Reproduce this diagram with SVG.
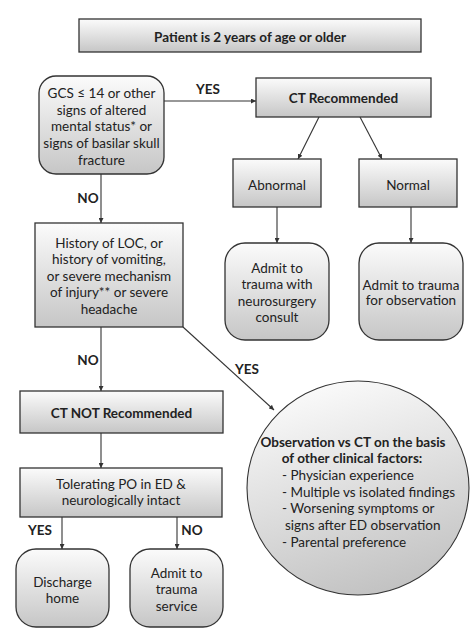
<svg xmlns="http://www.w3.org/2000/svg" width="471" height="633" viewBox="0 0 471 633">
<defs>
<linearGradient id="g" x1="0" y1="0" x2="0" y2="1">
<stop offset="0" stop-color="#fbfbfb"/>
<stop offset="1" stop-color="#c6c6c6"/>
</linearGradient>
<linearGradient id="gc" x1="0.3" y1="0" x2="0.6" y2="1">
<stop offset="0" stop-color="#fbfbfb"/>
<stop offset="1" stop-color="#c2c2c2"/>
</linearGradient>
<marker id="ah" viewBox="0 0 10 10" refX="10" refY="5" markerWidth="5" markerHeight="5" orient="auto" markerUnits="userSpaceOnUse">
<path d="M0,0 L10,5 L0,10 z" fill="#333"/>
</marker>
<style>
.box{fill:url(#g);stroke:#333;stroke-width:1.3}
.t{font-family:Lato,"Liberation Sans",sans-serif;font-size:13.5px;fill:#222;text-anchor:middle}
.b{font-weight:bold}
.l{text-anchor:start}
.c{stroke:#333;stroke-width:1.1;fill:none;marker-end:url(#ah)}
</style>
</defs>
<rect width="471" height="633" fill="#fff"/>
<g id="connectors">
<line class="c" x1="164" y1="101" x2="256" y2="101"/>
<line class="c" x1="319" y1="117" x2="298" y2="159"/>
<line class="c" x1="360" y1="117" x2="382" y2="159"/>
<line class="c" x1="277" y1="207" x2="277" y2="243"/>
<line class="c" x1="411" y1="207" x2="411" y2="243"/>
<line class="c" x1="101" y1="174" x2="101" y2="223"/>
<line class="c" x1="101" y1="327" x2="101" y2="391"/>
<line class="c" x1="183" y1="327" x2="274" y2="410"/>
<line class="c" x1="101" y1="433" x2="101" y2="468"/>
<line class="c" x1="62" y1="517" x2="62" y2="549"/>
<line class="c" x1="177" y1="517" x2="177" y2="549"/>
<text class="t b" x="208" y="94">YES</text>
<text class="t b" x="88" y="203">NO</text>
<text class="t b" x="88" y="365">NO</text>
<text class="t b" x="247" y="374">YES</text>
<text class="t b" x="40" y="535">YES</text>
<text class="t b" x="192" y="535">NO</text>
</g>
<g id="start">
<rect class="box" x="79" y="19" width="342" height="33" stroke-width="2"/>
<text class="t b" x="250" y="41.5" font-size="15">Patient is 2 years of age or older</text>
</g>
<g id="gcs">
<rect class="box" x="39" y="76" width="125" height="98" rx="17"/>
<text class="t" x="101.5" y="98">GCS ≤ 14 or other</text>
<text class="t" x="101.5" y="114.7">signs of altered</text>
<text class="t" x="101.5" y="131.4">mental status* or</text>
<text class="t" x="101.5" y="148.1">signs of basilar skull</text>
<text class="t" x="101.5" y="164.8">fracture</text>
</g>
<g id="ctrec">
<rect class="box" x="256" y="78" width="175" height="39"/>
<text class="t b" x="343.5" y="103">CT Recommended</text>
</g>
<g id="abnormal">
<rect class="box" x="233" y="159" width="88" height="48"/>
<text class="t" x="277" y="189.5">Abnormal</text>
</g>
<g id="normal">
<rect class="box" x="359" y="159" width="98" height="48"/>
<text class="t" x="408" y="189.5">Normal</text>
</g>
<g id="admitneuro">
<rect class="box" x="225" y="243" width="104" height="97" rx="20"/>
<text class="t" x="277" y="272.5">Admit to</text>
<text class="t" x="277" y="289">trauma with</text>
<text class="t" x="277" y="305.5">neurosurgery</text>
<text class="t" x="277" y="322">consult</text>
</g>
<g id="admitobs">
<rect class="box" x="359" y="243" width="104" height="97" rx="20"/>
<text class="t" x="411" y="289.5">Admit to trauma</text>
<text class="t" x="411" y="305">for observation</text>
</g>
<g id="history">
<rect class="box" x="35" y="223" width="148" height="104"/>
<text class="t" x="109" y="247.5">History of LOC, or</text>
<text class="t" x="109" y="264">history of vomiting,</text>
<text class="t" x="109" y="280.5">or severe mechanism</text>
<text class="t" x="109" y="297">of injury** or severe</text>
<text class="t" x="109" y="313.5">headache</text>
</g>
<g id="ctnot">
<rect class="box" x="20" y="391" width="203" height="42"/>
<text class="t b" x="121.5" y="417.5">CT NOT Recommended</text>
</g>
<g id="tolerating">
<rect class="box" x="20" y="468" width="202" height="49"/>
<text class="t" x="121" y="488.5">Tolerating PO in ED &amp;</text>
<text class="t" x="121" y="504.5">neurologically intact</text>
</g>
<g id="discharge">
<rect class="box" x="16" y="549" width="93" height="78" rx="20"/>
<text class="t" x="62.5" y="586.5">Discharge</text>
<text class="t" x="62.5" y="602.5">home</text>
</g>
<g id="admitservice">
<rect class="box" x="130" y="549" width="93" height="78" rx="20"/>
<text class="t" x="176.5" y="577.5">Admit to</text>
<text class="t" x="176.5" y="594">trauma</text>
<text class="t" x="176.5" y="610.5">service</text>
</g>
<g id="observation">
<ellipse cx="358" cy="488" rx="111" ry="107" fill="url(#gc)" stroke="#333" stroke-width="1.1"/>
<text class="t b" x="353" y="446.5">Observation vs CT on the basis</text>
<text class="t b" x="352" y="463.2">of other clinical factors:</text>
<text class="t l" x="282" y="479.9">- Physician experience</text>
<text class="t l" x="282" y="496.6">- Multiple vs isolated findings</text>
<text class="t l" x="282" y="513.3">- Worsening symptoms or</text>
<text class="t l" x="285" y="530">signs after ED observation</text>
<text class="t l" x="282" y="546.7">- Parental preference</text>
</g>
</svg>
